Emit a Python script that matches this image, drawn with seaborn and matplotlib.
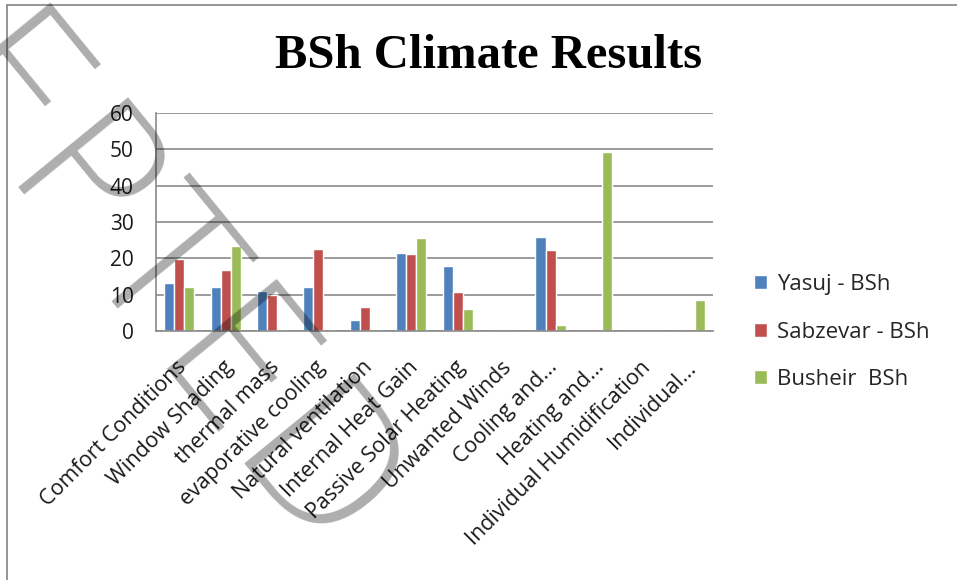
import numpy as np
import pandas as pd
import matplotlib
matplotlib.use("Agg")
import matplotlib.pyplot as plt
import matplotlib.transforms as mtransforms
from matplotlib import font_manager
from matplotlib.ft2font import FT2Font, LOAD_NO_HINTING
from matplotlib.lines import Line2D
from matplotlib.patches import Patch
import seaborn as sns

# ---- data -------------------------------------------------------------
categories = [
    "Comfort Conditions", "Window Shading", "thermal mass",
    "evaporative cooling", "Natural ventilation", "Internal Heat Gain",
    "Passive Solar Heating", "Unwanted Winds", "Cooling and...",
    "Heating and...", "Individual Humidification", "Individual...",
]
series_names = ["Yasuj - BSh", "Sabzevar - BSh", "Busheir  BSh"]
yasuj = [13.3, 12.1, 11.1, 12.1, 2.9, 21.5, 17.8, 0.5, 26.0, 0.0, 0.0, 0.0]
sabzevar = [19.8, 16.7, 10.0, 22.7, 6.7, 21.1, 10.6, 0.5, 22.2, 0.5, 0.0, 0.5]
busheir = [12.1, 23.3, 0.5, 0.5, 0.5, 25.5, 6.1, 0.0, 1.7, 49.2, 0.0, 8.4]
y_ticks = [0, 10, 20, 30, 40, 50, 60]
title = "BSh Climate Results"
watermark = "ACCEPTED  MANUSCRIPT"
colors = ["#4F81BD", "#C0504D", "#9BBB59"]

df = pd.DataFrame({
    "category": categories * 3,
    "series": np.repeat(series_names, len(categories)),
    "value": yasuj + sabzevar + busheir,
})

# ---- style ------------------------------------------------------------
sns.set_style("white")
plt.rcParams["font.family"] = ["Open Sans", "DejaVu Sans"]

W, H = 957, 580
fig = plt.figure(figsize=(W / 100, H / 100), dpi=100)
ax = fig.add_axes([156 / W, 1 - 331 / H, (713 - 156) / W, (331 - 113) / H])

sns.barplot(
    data=df, x="category", y="value", hue="series",
    order=categories, hue_order=series_names, palette=colors,
    saturation=1, width=0.65, errorbar=None, ax=ax, legend=False,
)

ax.set_xlim(-0.5, len(categories) - 0.5)
ax.set_ylim(0, 60)
ax.set_yticks(y_ticks)
ax.yaxis.grid(True, color="#8a8a8a", lw=1.2)
ax.xaxis.grid(False)
ax.set_axisbelow(True)
ax.set_xlabel("")
ax.set_ylabel("")
for side in ("top", "right"):
    ax.spines[side].set_visible(False)
for side in ("left", "bottom"):
    ax.spines[side].set_color("#8a8a8a")
    ax.spines[side].set_linewidth(1.2)

ax.tick_params(axis="y", length=0, pad=16, labelsize=15, labelcolor="#1a1a1a")
ax.tick_params(axis="x", length=0, pad=24, labelsize=15.5, labelcolor="#1a1a1a")
offset = mtransforms.ScaledTranslation(4 / 100, 0, fig.dpi_scale_trans)
for lab in ax.get_xticklabels():
    lab.set_rotation(45)
    lab.set_rotation_mode("anchor")
    lab.set_ha("right")
    lab.set_va("center")
    lab.set_transform(lab.get_transform() + offset)

# title
fig.text(489 / W, 1 - 68 / H, title, ha="center", va="baseline",
         fontsize=35, fontweight="bold", family="Liberation Serif",
         color="black")

# legend
handles = [Patch(facecolor=c, label=n) for c, n in zip(colors, series_names)]
fig.legend(handles=handles, loc="center left",
           bbox_to_anchor=(754 / W, 1 - 332 / H), frameon=False,
           fontsize=16, handlelength=0.58, handleheight=0.58,
           handletextpad=0.45, labelspacing=1.2, borderpad=0,
           borderaxespad=0)

# outer chart frame
frame_kw = dict(color="#8c8c8c", lw=1.3, transform=fig.transFigure)
fig.add_artist(Line2D([7.5 / W, 7.5 / W], [1 - 5 / H, 0], **frame_kw))
fig.add_artist(Line2D([7.5 / W, 1], [1 - 5 / H, 1 - 5 / H], **frame_kw))


# ---- diagonal stamp across the page -----------------------------------
def numeric_weight(w):
    if isinstance(w, str):
        return font_manager.weight_dict.get(w, 400)
    return int(w)


def pick_stamp_font():
    """A thin sans face for the stamp; lighter faces are tried first."""
    entries = [f for f in font_manager.fontManager.ttflist
               if f.style == "normal" and f.fname.lower().endswith((".ttf", ".otf"))]

    def is_narrow(f):
        return ("Condensed" in f.name or "Narrow" in f.name
                or "condensed" in str(f.stretch))

    def w(f):
        return numeric_weight(f.weight)

    tiers = [
        [f for f in entries if f.name == "DejaVu Sans" and w(f) <= 250
         and not is_narrow(f)],
        [f for f in entries if f.name in ("Roboto", "Lato", "Inter", "Open Sans")
         and 250 <= w(f) <= 350 and not is_narrow(f)],
        [f for f in entries if is_narrow(f) and 250 <= w(f) <= 350],
        [f for f in entries if is_narrow(f) and 350 < w(f) <= 420],
    ]
    for tier in tiers:
        if tier:
            return tier[0].fname
    return font_manager.findfont(font_manager.FontProperties(family="Liberation Sans"))


stamp_file = pick_stamp_font()
stamp_fp = font_manager.FontProperties(fname=stamp_file)

ft = FT2Font(stamp_file)
upm = ft.units_per_EM
ft.set_size(upm, 72)


def glyph(ch):
    return ft.load_char(ord(ch), flags=LOAD_NO_HINTING)


def advance(s):
    return sum(glyph(c).linearHoriAdvance / 65536 for c in s) / upm


stem_half = 0.03
p_stem = advance("ACCE") + glyph("P").horiBearingX / 64 / upm + stem_half
d_stem = advance("ACCEPTE") + glyph("D").horiBearingX / 64 / upm + stem_half
cap = glyph("H").height / 64 / upm

# letter pitch and letter height of the stamp, in pixels
em_from_pitch = 336 / (d_stem - p_stem)
em_from_cap = 150 / cap
em_px = (em_from_pitch * em_from_cap) ** 0.5

angle = -50.7
ux, uy = np.cos(np.radians(angle)), -np.sin(np.radians(angle))  # y down
mid_x, mid_y = 136.5, 332.0
mid_em = 0.5 * (p_stem + d_stem) * em_px
start_x, start_y = mid_x - mid_em * ux, mid_y - mid_em * uy

fig.text(start_x, H - start_y, watermark,
         transform=mtransforms.IdentityTransform(),
         fontproperties=stamp_fp, fontsize=em_px * 72 / 100,
         color="black", alpha=0.32, rotation=angle, rotation_mode="anchor",
         ha="left", va="baseline", zorder=20)

fig.savefig("out.png", dpi=100)
